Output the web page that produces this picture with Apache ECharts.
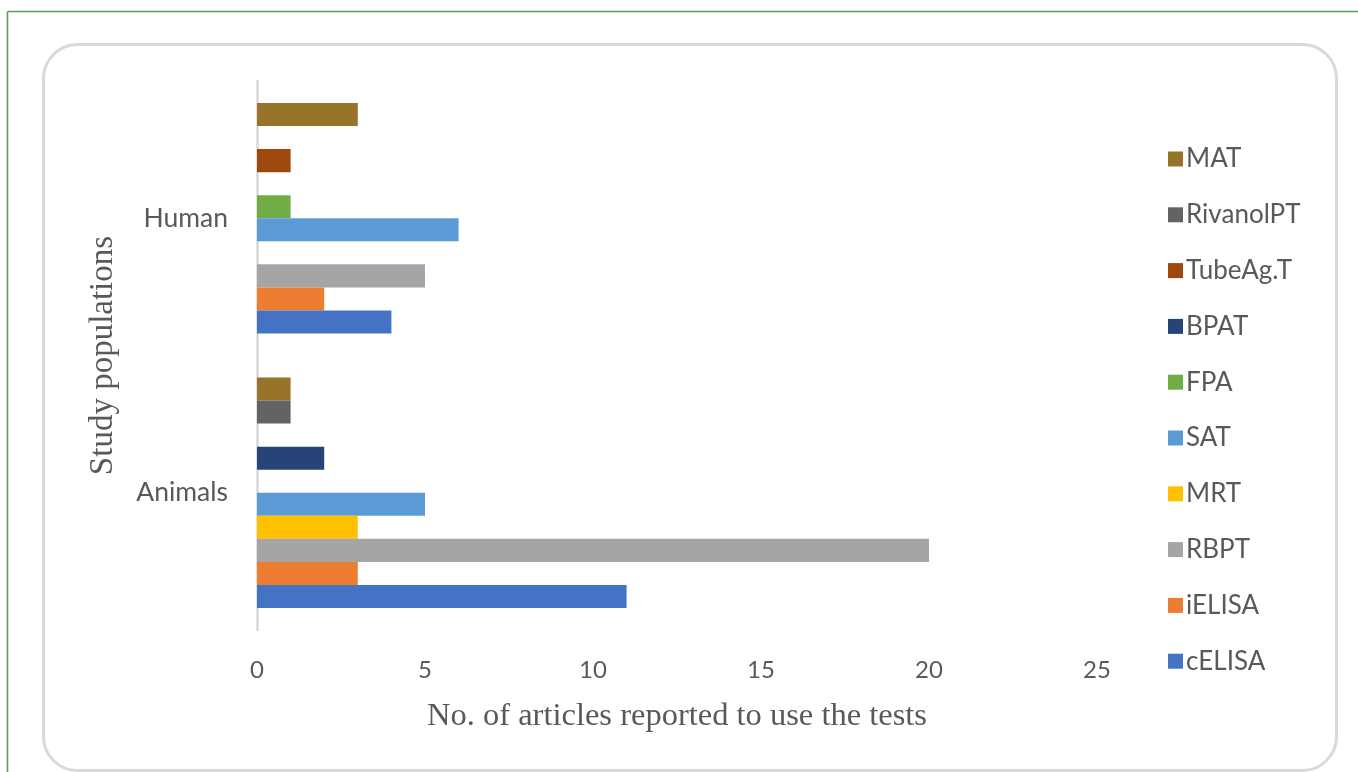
<!DOCTYPE html>
<html>
<head>
<meta charset="utf-8">
<script src="https://cdn.jsdelivr.net/npm/echarts@6/dist/echarts.min.js"></script>
<style>
  html, body { margin: 0; padding: 0; background: #ffffff; }
  #chart { width: 1358px; height: 772px; }
</style>
</head>
<body>
<div id="chart"></div>
<script>
// Study populations (bottom to top on the category axis)
const populations = ['Animals', 'Human'];

// Diagnostic tests; cELISA sits at the bottom of each group, MAT at the top
const tests = ['cELISA', 'iELISA', 'RBPT', 'MRT', 'SAT', 'FPA', 'BPAT', 'TubeAg.T', 'RivanolPT', 'MAT'];

// Number of articles reporting each test, per population
const animalCounts = [11, 3, 20, 3, 5, 0, 2, 0, 1, 1];
const humanCounts  = [4, 2, 5, 0, 6, 1, 0, 1, 0, 3];

// Value axis ticks
const xTicks = [0, 5, 10, 15, 20, 25];

const testColors = ['#4472C4', '#ED7D31', '#A5A5A5', '#FFC000', '#5B9BD5',
                    '#70AD47', '#264478', '#9E480E', '#636363', '#98742B'];

const labelFont = 'Lato, "Open Sans", sans-serif';
const titleFont = '"Liberation Serif", "DejaVu Serif", serif';

// ECharts stacks horizontal bar series from the top of the band downwards,
// so the series are added in reverse to put cELISA nearest the bottom.
const series = tests.map((name, i) => ({
  name: name,
  type: 'bar',
  data: [animalCounts[i], humanCounts[i]],
  itemStyle: { color: testColors[i] },
  barGap: '0%',
  barCategoryGap: '16%'
})).reverse();

const chart = echarts.init(document.getElementById('chart'), null, { renderer: 'canvas' });

chart.setOption({
  animation: false,
  backgroundColor: '#ffffff',
  graphic: [
    // outer green frame (left and top edges)
    { type: 'line', z: -10, shape: { x1: 7.5, y1: 11.5, x2: 7.5, y2: 772 },
      style: { stroke: '#5a9e5e', lineWidth: 1.6 } },
    { type: 'line', z: -10, shape: { x1: 7.5, y1: 11.5, x2: 1358, y2: 11.5 },
      style: { stroke: '#5a9e5e', lineWidth: 1.6 } },
    // rounded chart-area panel
    { type: 'rect', z: -10, shape: { x: 43.5, y: 44.5, width: 1293, height: 726, r: 34 },
      style: { fill: '#ffffff', stroke: '#d9d9d9', lineWidth: 3 } }
  ],
  grid: { left: 257, right: 261, top: 81, bottom: 142, containLabel: false },
  legend: {
    orient: 'vertical',
    left: 1163,
    top: 141,
    itemWidth: 15,
    itemHeight: 15,
    itemGap: 29.8,
    icon: 'rect',
    data: tests.slice().reverse(),
    textStyle: { fontFamily: labelFont, fontSize: 26, color: '#595959', lineHeight: 25, padding: [0, 0, 0, -2] }
  },
  xAxis: {
    type: 'value',
    min: xTicks[0],
    max: xTicks[xTicks.length - 1],
    interval: xTicks[1] - xTicks[0],
    splitLine: { show: false },
    axisLine: { show: false },
    axisTick: { show: false },
    axisLabel: { margin: 28, fontFamily: labelFont, fontSize: 24, color: '#595959' },
    name: 'No. of articles reported to use the tests',
    nameLocation: 'middle',
    nameGap: 70,
    nameTextStyle: { fontFamily: titleFont, fontSize: 32.5, color: '#595959' }
  },
  yAxis: {
    type: 'category',
    data: populations,
    axisLine: { show: true, lineStyle: { color: '#d9d9d9', width: 2.5 } },
    axisTick: { show: false },
    axisLabel: { margin: 29, fontFamily: labelFont, fontSize: 26.5, color: '#595959' },
    name: 'Study populations',
    nameLocation: 'middle',
    nameRotate: 90,
    nameGap: 137,
    nameTextStyle: { fontFamily: titleFont, fontSize: 33, color: '#595959' }
  },
  series: series
});
</script>
</body>
</html>
